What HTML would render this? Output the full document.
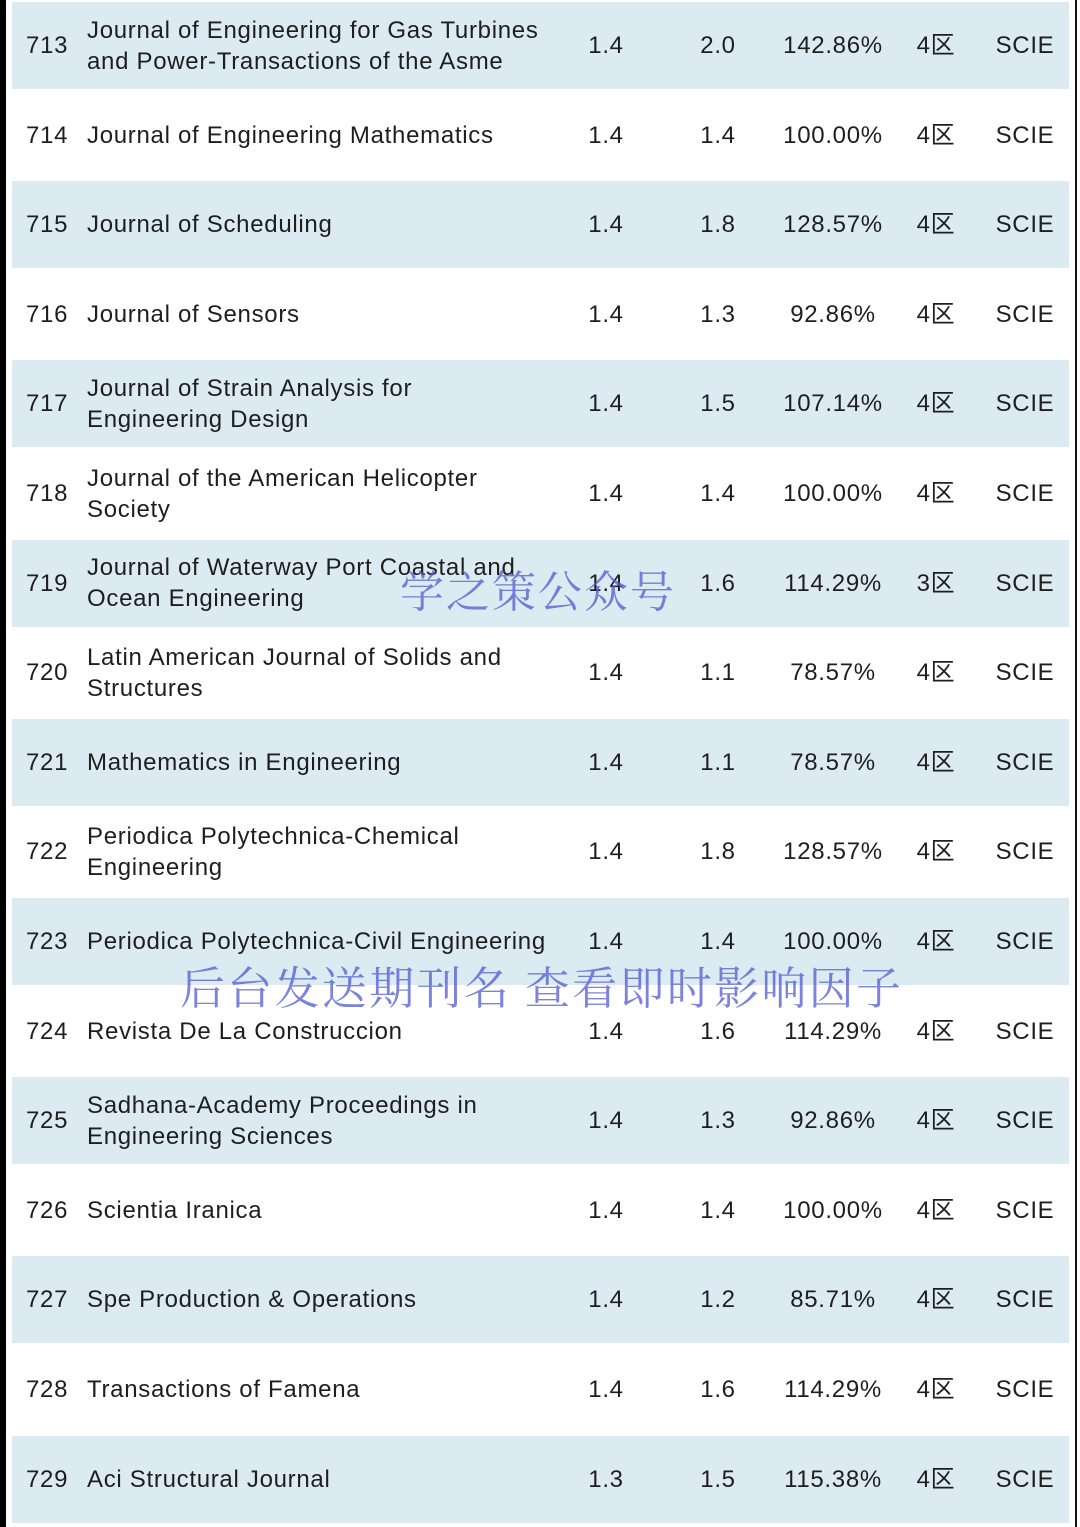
<!DOCTYPE html>
<html><head><meta charset="utf-8"><style>
body{margin:0;width:1080px;height:1527px;background:#fff;position:relative;overflow:hidden;font-family:"Liberation Sans","Noto Sans CJK SC",sans-serif;color:#1e1e1e}
.lb{position:absolute;left:0;top:0;width:6px;height:1527px;background:#000}
.rb{position:absolute;left:1075px;top:0;width:2px;height:1527px;background:#111}
.row{position:absolute;left:12px;width:1057px;height:87px}
.row.b{background:#dcebf2}
.c{position:absolute;top:0;height:87px;display:flex;align-items:center;font-size:24px;line-height:31px;letter-spacing:0.7px}
.n{left:14px}
.t{left:75px;width:490px}
.v{justify-content:center;width:120px}
.wm{position:absolute;font-family:"Noto Serif CJK SC",serif;color:rgba(80,90,210,0.75);white-space:nowrap}
</style></head><body>
<div class="lb"></div>
<div class="rb"></div>
<div id="tbl"></div>
<div class="wm" style="left:400px;top:556px;font-size:44px;letter-spacing:2px">学之策公众号</div>
<div class="wm" style="left:180px;top:952px;font-size:45px;letter-spacing:2.3px">后台发送期刊名 查看即时影响因子</div>
<script>
const ranks=[713,714,715,716,717,718,719,720,721,722,723,724,725,726,727,728,729];
const titles=["Journal of Engineering for Gas Turbines<br>and Power-Transactions of the Asme","Journal of Engineering Mathematics","Journal of Scheduling","Journal of Sensors","Journal of Strain Analysis for<br>Engineering Design","Journal of the American Helicopter<br>Society","Journal of Waterway Port Coastal and<br>Ocean Engineering","Latin American Journal of Solids and<br>Structures","Mathematics in Engineering","Periodica Polytechnica-Chemical<br>Engineering","Periodica Polytechnica-Civil Engineering","Revista De La Construccion","Sadhana-Academy Proceedings in<br>Engineering Sciences","Scientia Iranica","Spe Production &amp; Operations","Transactions of Famena","Aci Structural Journal"];
const ifA=["1.4","1.4","1.4","1.4","1.4","1.4","1.4","1.4","1.4","1.4","1.4","1.4","1.4","1.4","1.4","1.4","1.3"];
const ifB=["2.0","1.4","1.8","1.3","1.5","1.4","1.6","1.1","1.1","1.8","1.4","1.6","1.3","1.4","1.2","1.6","1.5"];
const pct=["142.86%","100.00%","128.57%","92.86%","107.14%","100.00%","114.29%","78.57%","78.57%","128.57%","100.00%","114.29%","92.86%","100.00%","85.71%","114.29%","115.38%"];
const zone=["4区","4区","4区","4区","4区","4区","3区","4区","4区","4区","4区","4区","4区","4区","4区","4区","4区"];
const idx=["SCIE","SCIE","SCIE","SCIE","SCIE","SCIE","SCIE","SCIE","SCIE","SCIE","SCIE","SCIE","SCIE","SCIE","SCIE","SCIE","SCIE"];
const tbl=document.getElementById('tbl');
ranks.forEach((r,i)=>{
 const row=document.createElement('div');
 row.className='row'+(i%2===0?' b':'');
 row.style.top=(2+i*89.6)+'px';
 
 
 const cells=[['n',r,0],['t',titles[i],0],['v',ifA[i],534],['v',ifB[i],646],['v',pct[i],761],['v',zone[i],864],['v',idx[i],953]];
 const names=['rank','title','if-prev','if-now','growth','zone','index'];
 cells.forEach((c,j)=>{
  const d=document.createElement('div');
  d.className='c '+c[0];
  if(c[2])d.style.left=c[2]+'px';
  d.innerHTML=c[1];
  
  
  row.appendChild(d);
 });
 tbl.appendChild(row);
});
</script>
</body></html>
